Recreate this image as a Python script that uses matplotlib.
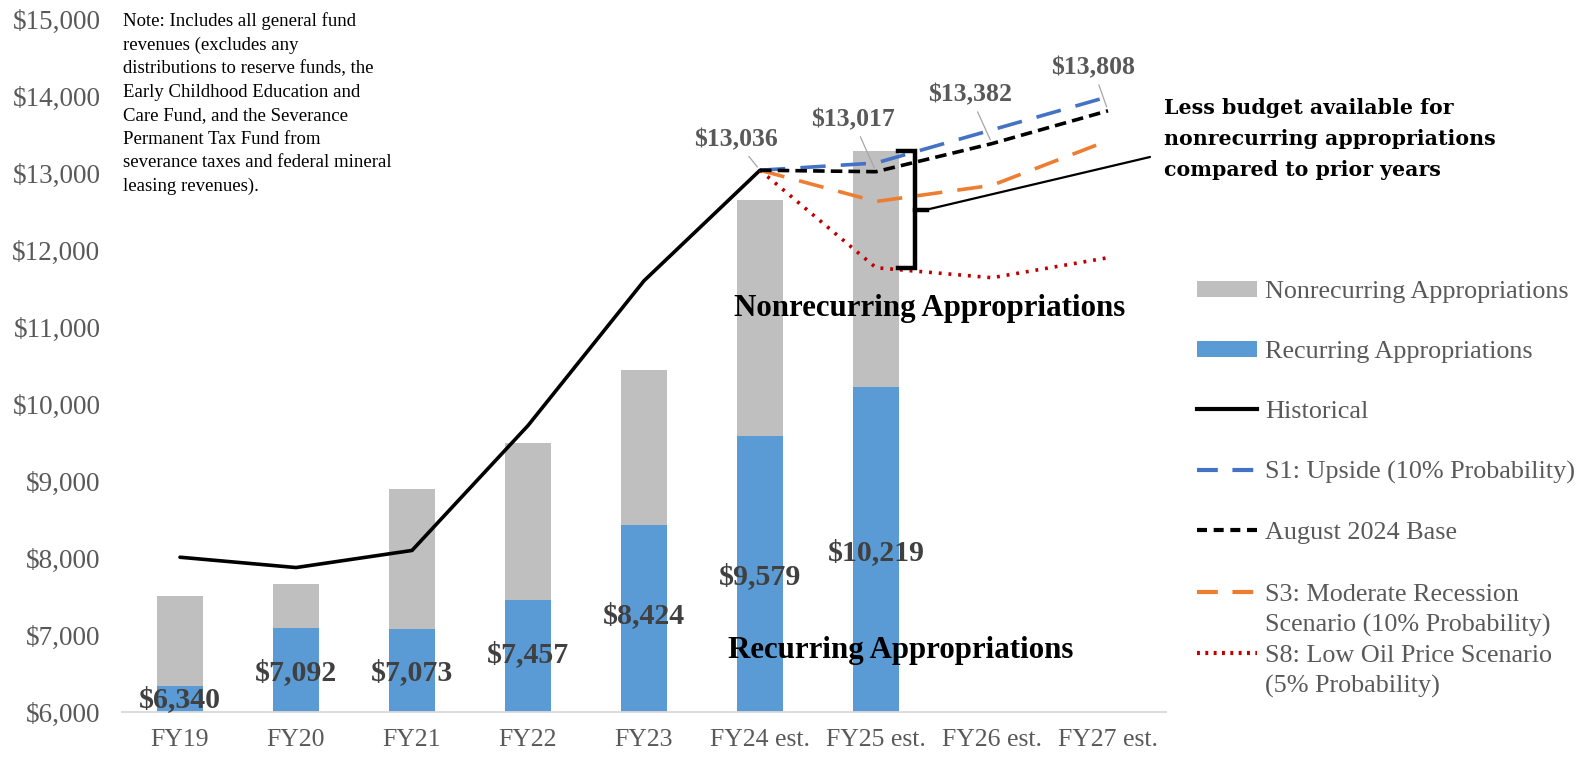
import matplotlib
matplotlib.use('Agg')
import matplotlib.pyplot as plt
from matplotlib.patches import Patch
from matplotlib.lines import Line2D
from matplotlib.ticker import FuncFormatter

# ---------------- data ----------------
categories = ['FY19', 'FY20', 'FY21', 'FY22', 'FY23', 'FY24 est.', 'FY25 est.', 'FY26 est.', 'FY27 est.']
bar_years = categories[:7]
recurring = [6340, 7092, 7073, 7457, 8424, 9579, 10219]
total_approp = [7510, 7667, 8900, 9490, 10440, 12645, 13280]
nonrecurring = [t - r for t, r in zip(total_approp, recurring)]
historical = [8010, 7876, 8098, 9720, 11600, 13036]
scen_years = categories[5:]
s1_upside = [13036, 13130, 13560, 13990]
base_aug2024 = [13036, 13017, 13382, 13808]
s3_recession = [13036, 12630, 12840, 13420]
s8_low_oil = [13036, 11770, 11640, 11900]
y_ticks = list(range(6000, 15001, 1000))

# ---------------- style ----------------
SERIF = 'Liberation Serif'
GRAY_TXT = '#595959'
C_NONREC = '#BFBFBF'
C_REC = '#5B9BD5'
C_S1 = '#4472C4'
C_S3 = '#ED7D31'
C_S8 = '#C00000'

W, H = 1577, 758
fig = plt.figure(figsize=(W / 100, H / 100), dpi=100)
ax = fig.add_axes([122 / W, 1 - 712 / H, (1166 - 122) / W, (712 - 19) / H])

xi = {c: i for i, c in enumerate(categories)}
bx = [xi[c] for c in bar_years]
sx = [xi[c] for c in scen_years]

ax.bar(bx, recurring, width=0.4, color=C_REC, zorder=2)
ax.bar(bx, nonrecurring, bottom=recurring, width=0.4, color=C_NONREC, zorder=2)

ax.plot([xi[c] for c in categories[:6]], historical, color='black', lw=2.6, zorder=4,
        solid_capstyle='round', solid_joinstyle='round')
ax.plot(sx, s1_upside, color=C_S1, lw=2.6, dashes=(7, 4.2), zorder=4)
ax.plot(sx, s3_recession, color=C_S3, lw=2.6, dashes=(7, 4.2), zorder=4)
ax.plot(sx, base_aug2024, color='black', lw=2.6, dashes=(3.2, 1.7), zorder=5)
ax.plot(sx, s8_low_oil, color=C_S8, lw=2.6, linestyle=(0, (0.8, 1.9)), zorder=4)

ax.set_xlim(-0.5, len(categories) - 0.5)
ax.set_ylim(6000, 15000)
ax.set_yticks(y_ticks)
ax.yaxis.set_major_formatter(FuncFormatter(lambda v, p: f'${v:,.0f}'))
ax.set_xticks(range(len(categories)))
ax.set_xticklabels(categories)
for lab in ax.get_xticklabels():
    lab.set_fontfamily(SERIF)
    lab.set_fontsize(18.5)
    lab.set_color(GRAY_TXT)
for lab in ax.get_yticklabels():
    lab.set_fontfamily(SERIF)
    lab.set_fontsize(19.5)
    lab.set_color(GRAY_TXT)
ax.tick_params(axis='both', length=0)
ax.tick_params(axis='y', pad=15.5)
ax.tick_params(axis='x', pad=12)
for s in ['top', 'right', 'left']:
    ax.spines[s].set_visible(False)
ax.spines['bottom'].set_color('#D9D9D9')
ax.spines['bottom'].set_linewidth(1.3)

# bar value labels (recurring)
bar_label_y = [6156, 6506, 6506, 6740, 7250, 7760, 8070]
for x, v, ly in zip(bx, recurring, bar_label_y):
    ax.text(x, ly, f'${v:,}', ha='center', va='center', fontfamily=SERIF,
            fontweight='bold', fontsize=21.5, color='#404040', zorder=6)

# base scenario labels with leader lines
lab_dx = [-0.21, -0.2, -0.19, -0.13]
lab_dy = [394, 673, 631, 556]
for x, v, dx, dy in zip(sx, base_aug2024, lab_dx, lab_dy):
    ax.annotate(f'${v:,}', xy=(x, v), xytext=(x + dx, v + dy), ha='center', va='center',
                fontfamily=SERIF, fontweight='bold', fontsize=18.5, color=GRAY_TXT,
                arrowprops=dict(arrowstyle='-', color='#A6A6A6', lw=0.9, shrinkA=2, shrinkB=3),
                zorder=6)

# in-chart titles
ax.text(6.46, 11234, 'Nonrecurring Appropriations', ha='center', va='center', fontfamily=SERIF,
        fontweight='bold', fontsize=22.2, color='black', zorder=6)
ax.text(6.21, 6805, 'Recurring Appropriations', ha='center', va='center', fontfamily=SERIF,
        fontweight='bold', fontsize=22.2, color='black', zorder=6)

# bracket
bxr = xi['FY25 est.'] + 0.34
b_top = total_approp[6]
b_bot = s8_low_oil[1]
b_mid = (b_top + b_bot) / 2
ax.plot([bxr - 0.15, bxr, bxr, bxr - 0.15], [b_top, b_top, b_bot, b_bot], color='black',
        lw=3.2, solid_joinstyle='miter', zorder=7, clip_on=False)
ax.plot([bxr, bxr + 0.1], [b_mid, b_mid], color='black', lw=3.2, zorder=7)
ax.annotate('', xy=(bxr + 0.1, b_mid), xycoords='data', xytext=(1150 / W, 1 - 157 / H),
            textcoords='figure fraction',
            arrowprops=dict(arrowstyle='-', color='black', lw=1.6, shrinkA=0, shrinkB=0),
            annotation_clip=False)

fig.text(1164 / W, 1 - 139 / H,
         'Less budget available for\nnonrecurring appropriations\ncompared to prior years',
         ha='left', va='center', fontfamily='DejaVu Serif', fontweight='bold', fontsize=14.8,
         color='black', linespacing=1.68)

# note
fig.text(123 / W, 1 - 12 / H,
         'Note: Includes all general fund\nrevenues (excludes any\ndistributions to reserve funds, the\n'
         'Early Childhood Education and\nCare Fund, and the Severance\nPermanent Tax Fund from\n'
         'severance taxes and federal mineral\nleasing revenues).',
         ha='left', va='top', fontfamily=SERIF, fontsize=13.5, color='black', linespacing=1.5)

# legends
lprop = {'family': SERIF, 'size': 18.8}
h1 = [Patch(facecolor=C_NONREC, edgecolor='none'),
      Patch(facecolor=C_REC, edgecolor='none'),
      Line2D([], [], color='black', lw=3),
      Line2D([], [], color=C_S1, lw=3, dashes=(5, 3.5)),
      Line2D([], [], color='black', lw=3, dashes=(2.4, 1.6))]
l1 = ['Nonrecurring Appropriations', 'Recurring Appropriations', 'Historical',
      'S1: Upside (10% Probability)', 'August 2024 Base']
leg1 = fig.legend(h1, l1, loc='upper left', bbox_to_anchor=(1197 / W, 1 - 281 / H),
                  frameon=False, borderpad=0, borderaxespad=0, handlelength=2.3,
                  handleheight=0.55, handletextpad=0.3, labelspacing=1.45, prop=lprop,
                  labelcolor=GRAY_TXT)
blank = Line2D([], [], linestyle='none')
h2 = [Line2D([], [], color=C_S3, lw=3, dashes=(5, 3.5)), blank,
      Line2D([], [], color=C_S8, lw=3, linestyle=(0, (0.7, 1.3))), blank]
l2 = ['S3: Moderate Recession', 'Scenario (10% Probability)',
      'S8: Low Oil Price Scenario', '(5% Probability)']
leg2 = fig.legend(h2, l2, loc='upper left', bbox_to_anchor=(1197 / W, 1 - 583 / H),
                  frameon=False, borderpad=0, borderaxespad=0, handlelength=2.3,
                  handletextpad=0.3, labelspacing=0.27, prop=lprop, labelcolor=GRAY_TXT)

fig.savefig('out.png', dpi=100)
